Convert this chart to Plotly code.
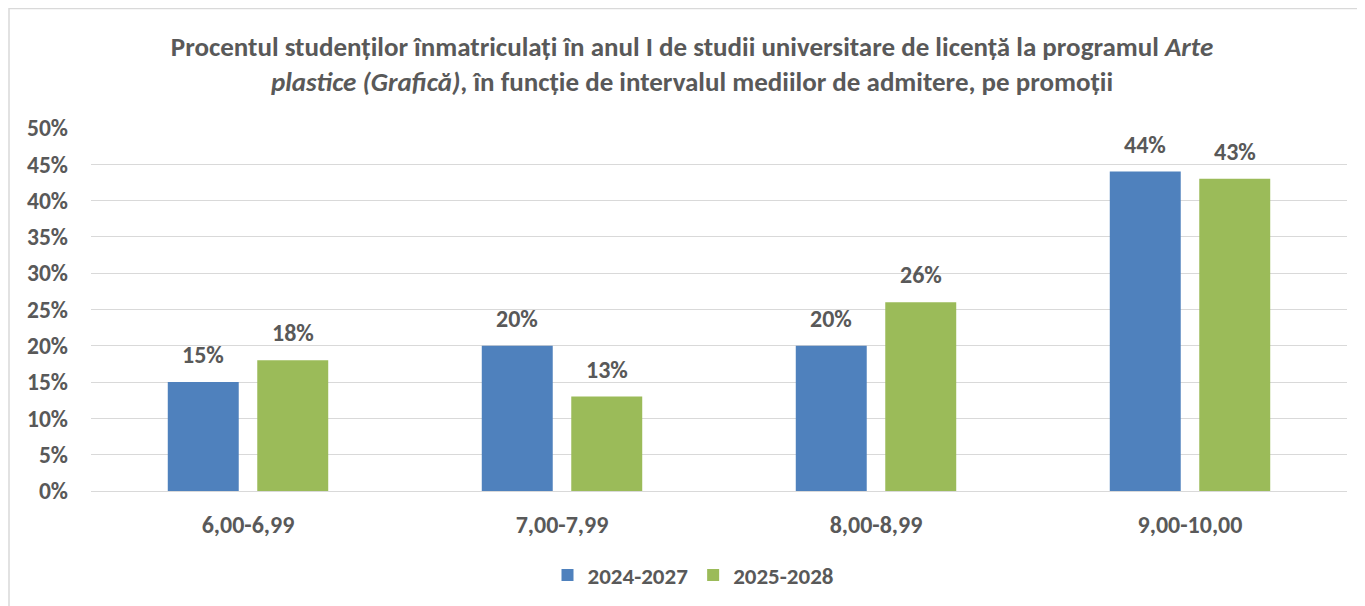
import plotly.graph_objects as go

categories = ["6,00-6,99", "7,00-7,99", "8,00-8,99", "9,00-10,00"]
series_names = ["2024-2027", "2025-2028"]
values_2024 = [0.15, 0.20, 0.20, 0.44]
values_2025 = [0.18, 0.13, 0.26, 0.43]
colors = ["#4F81BD", "#9BBB59"]
y_ticks = [0, 0.05, 0.10, 0.15, 0.20, 0.25, 0.30, 0.35, 0.40, 0.45, 0.50]
y_ticklabels = ["0%", "5%", "10%", "15%", "20%", "25%", "30%", "35%", "40%", "45%", "50%"]

FONT = "Carlito, Calibri, Lato, sans-serif"
GRAY = "#595959"

# page body has an 8px margin, so the figure is drawn at (8, 8)
OFF = 8
W, H = 1365 - OFF, 606 - OFF
ML, MR, MT, MB = 83, 18, 120, 115
plot_w = W - ML - MR
plot_h = H - MT - MB

fig = go.Figure()
for name, vals, col in zip(series_names, [values_2024, values_2025], colors):
    fig.add_trace(go.Bar(
        x=categories, y=vals, name=f"<b>{name}</b>",
        marker=dict(color=col, line=dict(width=0)),
        hoverinfo="x+y",
    ))

bargap = 0.43
slot_px = plot_w / len(categories) * (1 - bargap) / 2
annotations = []
for i, vals in enumerate([values_2024, values_2025]):
    shift = (i - 0.5) * slot_px
    for c, v in zip(categories, vals):
        annotations.append(dict(
            x=c, y=v, xref="x", yref="y", text=f"<b>{round(v*100)}%</b>",
            showarrow=False, xshift=shift, yshift=11, yanchor="bottom",
            font=dict(family=FONT, size=24, color=GRAY),
        ))

fig.update_layout(
    width=W, height=H,
    margin=dict(l=ML, r=MR, t=MT, b=MB, autoexpand=False),
    paper_bgcolor="white", plot_bgcolor="white",
    barmode="group", bargap=bargap, bargroupgap=0.207,
    title=dict(
        text="<b>Procentul studenților înmatriculați în anul I de studii universitare de licență la programul <i>Arte</i><br><i>plastice (Grafică)</i>, în funcție de intervalul mediilor de admitere, pe promoții</b>",
        xref="paper", x=(684 - ML) / plot_w, xanchor="center",
        yref="container", y=1 - 48 / H, yanchor="middle",
        font=dict(family=FONT, size=27, color=GRAY),
    ),
    xaxis=dict(
        type="category", showgrid=False, showline=False, ticks="",
        tickvals=categories, ticktext=[f"<b>{c}</b>" for c in categories],
        tickfont=dict(family=FONT, size=24, color=GRAY), ticklabelstandoff=17,
        automargin=False,
    ),
    yaxis=dict(
        range=[0, 0.5], tickvals=y_ticks, ticktext=[f"<b>{t}</b>" for t in y_ticklabels],
        showgrid=True, gridcolor="#D9D9D9", gridwidth=1, zeroline=True,
        zerolinecolor="#D9D9D9", zerolinewidth=1, showline=False, ticks="",
        tickfont=dict(family=FONT, size=23.5, color=GRAY), ticklabelstandoff=22,
        automargin=False,
    ),
    legend=dict(
        orientation="h", x=(693 - OFF - ML) / plot_w, xanchor="center", y=-0.172, yanchor="top",
        font=dict(family=FONT, size=23, color=GRAY), itemsizing="constant",
        traceorder="normal", itemwidth=30,
    ),
    annotations=annotations,
    shapes=[dict(
        type="rect", xref="paper", yref="paper",
        x0=(1 - ML) / plot_w, x1=(W + 5 - ML) / plot_w,
        y0=-(MB + 5) / plot_h, y1=(H - MB - 0.5) / plot_h,
        line=dict(color="#D9D9D9", width=1.5), fillcolor="rgba(0,0,0,0)", layer="below",
    )],
)

fig.write_html("out.html")
